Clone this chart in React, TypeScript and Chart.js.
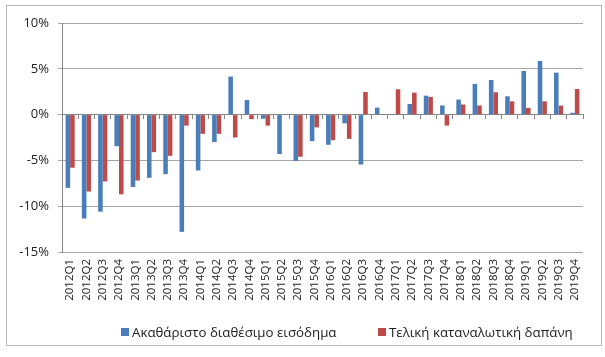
import React, { useEffect, useRef } from "react";
import { Chart, registerables } from "chart.js";

Chart.register(...registerables);

const quarters = [
  "2012Q1", "2012Q2", "2012Q3", "2012Q4",
  "2013Q1", "2013Q2", "2013Q3", "2013Q4",
  "2014Q1", "2014Q2", "2014Q3", "2014Q4",
  "2015Q1", "2015Q2", "2015Q3", "2015Q4",
  "2016Q1", "2016Q2", "2016Q3", "2016Q4",
  "2017Q1", "2017Q2", "2017Q3", "2017Q4",
  "2018Q1", "2018Q2", "2018Q3", "2018Q4",
  "2019Q1", "2019Q2", "2019Q3", "2019Q4",
];

const incomeLabel = "Ακαθάριστο διαθέσιμο εισόδημα";
const spendingLabel = "Τελική καταναλωτική δαπάνη";

const income = [
  -8.0, -11.35, -10.6, -3.45,
  -7.9, -6.9, -6.5, -12.8,
  -6.1, -3.0, 4.15, 1.6,
  -0.45, -4.3, -5.05, -2.9,
  -3.3, -0.95, -5.45, 0.76,
  0.0, 1.16, 2.07, 1.0,
  1.64, 3.35, 3.78, 2.0,
  4.76, 5.85, 4.58, 0.2,
];

const spending = [
  -5.8, -8.4, -7.3, -8.7,
  -7.2, -4.1, -4.5, -1.2,
  -2.1, -2.1, -2.5, -0.5,
  -1.2, 0.0, -4.6, -1.4,
  -2.8, -2.65, 2.47, 0.0,
  2.76, 2.4, 1.93, -1.2,
  1.1, 1.0, 2.44, 1.45,
  0.73, 1.45, 0.98, 2.8,
];

const yMin = -15;
const yMax = 10;
const yStep = 5;

const blue = "#4a7ebb";
const red = "#be4b48";
const FONT = "'Open Sans', 'DejaVu Sans', sans-serif";

export default function App() {
  const canvasRef = useRef<HTMLCanvasElement | null>(null);

  useEffect(() => {
    const canvas = canvasRef.current;
    if (!canvas) return;
    const chart = new Chart(canvas, {
      type: "bar",
      data: {
        labels: quarters,
        datasets: [
          { label: incomeLabel, data: income, backgroundColor: blue, borderWidth: 0 },
          { label: spendingLabel, data: spending, backgroundColor: red, borderWidth: 0 },
        ],
      },
      options: {
        animation: false,
        responsive: false,
        maintainAspectRatio: false,
        devicePixelRatio: 1,
        layout: { padding: { left: 0, right: 18, top: 17, bottom: 0 } },
        datasets: {
          bar: { categoryPercentage: 0.56, barPercentage: 1 },
        },
        plugins: {
          legend: { display: false },
          tooltip: { enabled: false },
        },
        scales: {
          x: {
            type: "category",
            grid: { display: false, drawTicks: false },
            border: { display: false },
            ticks: {
              autoSkip: false,
              maxRotation: 90,
              minRotation: 90,
              padding: 7,
              color: "#222",
              font: { family: FONT, size: 11.5 },
            },
            afterFit: (s: any) => {
              s.height = 93;
            },
          },
          x2: {
            type: "category",
            labels: quarters,
            position: { y: 0 } as any,
            grid: {
              drawOnChartArea: false,
              drawTicks: true,
              tickLength: 4,
              offset: true,
              color: "#868686",
            },
            border: { display: true, color: "#868686", width: 1 },
            ticks: { display: false },
          },
          y: {
            min: yMin,
            max: yMax,
            ticks: {
              stepSize: yStep,
              padding: 9,
              color: "#222",
              font: { family: FONT, size: 13 },
              callback: (v: any) => `${v}%`,
            },
            grid: {
              color: "#a6a6a6",
              tickLength: 4,
              drawTicks: true,
            },
            border: { display: true, color: "#868686", width: 1 },
            afterFit: (s: any) => {
              s.width = 55;
            },
          },
        },
      },
    });
    return () => chart.destroy();
  }, []);

  const legendItems = [
    { label: incomeLabel, color: blue, left: 114 },
    { label: spendingLabel, color: red, left: 371 },
  ];

  return (
    <div
      style={{
        position: "absolute",
        left: 6,
        top: 5,
        width: 596,
        height: 341,
        border: "1px solid #b8b8b8",
        boxSizing: "border-box",
        background: "#fff",
      }}
    >
      <canvas
        ref={canvasRef}
        width={594}
        height={339}
        style={{ position: "absolute", left: 0, top: 0, width: 594, height: 339 }}
      />
      {legendItems.map((it) => (
        <div
          key={it.label}
          style={{
            position: "absolute",
            left: it.left,
            top: 317,
            height: 18,
            display: "flex",
            alignItems: "center",
            fontFamily: FONT,
            fontSize: 13.3,
            color: "#222",
            whiteSpace: "nowrap",
          }}
        >
          <span
            style={{
              display: "inline-block",
              width: 8,
              height: 8,
              background: it.color,
              marginRight: 3,
            }}
          />
          <span>{it.label}</span>
        </div>
      ))}
    </div>
  );
}
